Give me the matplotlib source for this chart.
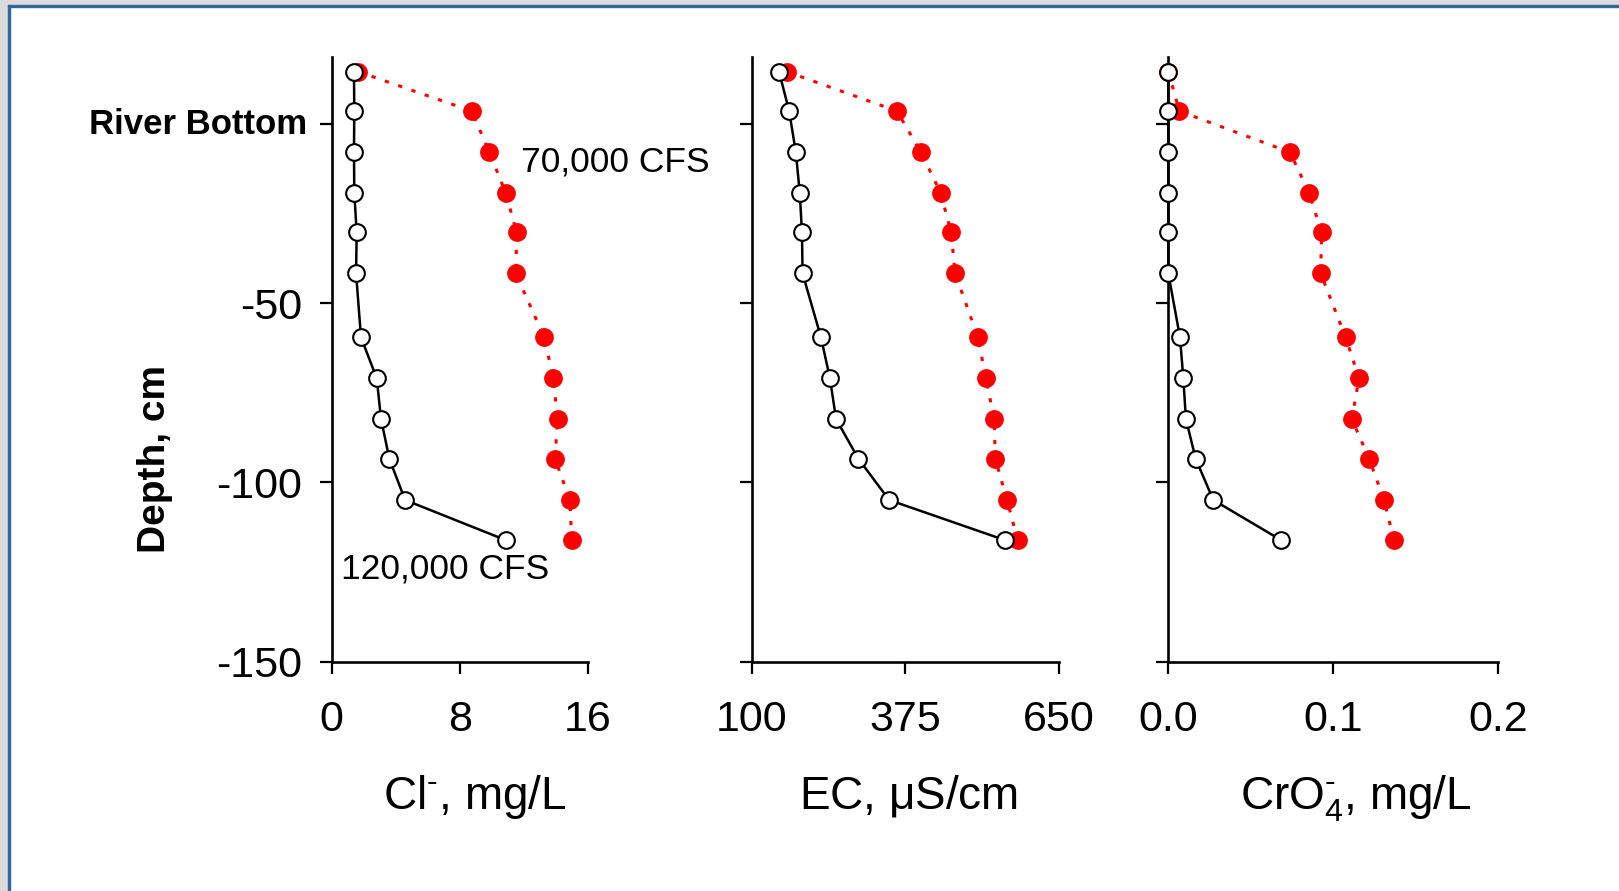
import matplotlib
matplotlib.use("Agg")
import matplotlib.pyplot as plt
from matplotlib.patches import Rectangle

plt.rcParams['font.family'] = ['Liberation Sans', 'DejaVu Sans']
plt.rcParams['mathtext.fontset'] = 'custom'
plt.rcParams['mathtext.rm'] = 'Liberation Sans'
plt.rcParams['mathtext.it'] = 'Liberation Sans'
plt.rcParams['mathtext.default'] = 'regular'

# profundidades de muestreo (cm, 0 = fondo del rio)
profundidad = [14.7, 3.7, -7.8, -19.1, -30.2, -41.6, -59.5, -70.9, -82.3, -93.4, -104.9, -116.1]

# Cl-, mg/L
cl_120k = [1.39, 1.41, 1.39, 1.41, 1.56, 1.52, 1.83, 2.81, 3.08, 3.60, 4.58, 10.86]
cl_70k = [1.66, 8.74, 9.84, 10.86, 11.55, 11.49, 13.27, 13.83, 14.10, 13.94, 14.87, 14.98]

# EC, uS/cm
ec_120k = [149, 167, 179, 186, 190, 191, 224, 240, 251, 291, 346, 553]
ec_70k = [163, 360, 403, 438, 457, 464, 505, 519, 534, 536, 557, 576]

# CrO4-, mg/L
cro4_120k = [0.0, 0.0, 0.0, 0.0, 0.0, 0.0, 0.0071, 0.0091, 0.0107, 0.0166, 0.0273, 0.0684]
cro4_70k = [0.0, 0.0067, 0.0738, 0.0854, 0.0930, 0.0924, 0.1076, 0.1157, 0.1113, 0.1219, 0.1308, 0.1369]

paneles = [
    (cl_120k, cl_70k, (0, 16), [0, 8, 16], ['0', '8', '16'], 'Cl$^{\u2010}$, mg/L', 0.56),
    (ec_120k, ec_70k, (100, 650), [100, 375, 650], ['100', '375', '650'], r'EC, $\mu$S/cm', 0.51),
    (cro4_120k, cro4_70k, (0, 0.2), [0.0, 0.1, 0.2], ['0.0', '0.1', '0.2'], 'CrO$_4^{\u2010}$, mg/L', 0.57),
]

W, H = 1619, 891
fig = plt.figure(figsize=(W / 100, H / 100), dpi=100)

# marco gris/azul de la captura
fig.patches.append(Rectangle((0, 1 - 5 / H), 1, 5 / H, transform=fig.transFigure, color='#dcdcdc', zorder=-5))
fig.patches.append(Rectangle((0, 0), 8 / W, 1, transform=fig.transFigure, color='#dcdcdc', zorder=-5))
fig.patches.append(Rectangle((8 / W, 1 - 7 / H), 1, 2 / H, transform=fig.transFigure, color='#336699', zorder=-4))
fig.patches.append(Rectangle((8 / W, 0), 2 / W, 1 - 5 / H, transform=fig.transFigure, color='#336699', zorder=-4))

lefts = [331.7, 751.7, 1168.3]
rights = [588, 1059, 1498]
y_top, y_bot = 57, 661.5

for i, (serie_a, serie_b, xlim, xt, xtl, xlab, labx) in enumerate(paneles):
    ax = fig.add_axes([lefts[i] / W, 1 - y_bot / H, (rights[i] - lefts[i]) / W, (y_bot - y_top) / H])
    ax.plot(serie_b, profundidad, color='red', lw=2.2, linestyle=(0, (1.4, 3.2)),
            marker='o', ms=12.5, mfc='red', mec='red', clip_on=False, zorder=3)
    ax.plot(serie_a, profundidad, color='black', lw=1.8, marker='o', ms=12,
            mfc='white', mec='black', mew=1.5, clip_on=False, zorder=4)
    ax.set_xlim(*xlim)
    ax.set_ylim(-150, 18.8)
    ax.set_xticks(xt)
    ax.set_xticklabels(xtl)
    ax.set_yticks([-150, -100, -50, 0])
    if i == 0:
        ax.set_yticklabels(['-150', '-100', '-50', ''])
    else:
        ax.set_yticklabels([])
    for s in ['top', 'right']:
        ax.spines[s].set_visible(False)
    for s in ['left', 'bottom']:
        ax.spines[s].set_linewidth(1.9)
    ax.tick_params(axis='both', direction='out', length=8.5, width=1.6, labelsize=31)
    ax.tick_params(axis='x', pad=19)
    ax.tick_params(axis='y', pad=13)
    ax.set_xlabel(xlab, fontsize=33)
    ax.xaxis.set_label_coords(labx, -0.185)

fig.text(307 / W, 1 - 124 / H, 'River Bottom', ha='right', va='center', fontsize=25, fontweight='bold')
fig.text(155 / W, 1 - 459 / H, 'Depth, cm', ha='center', va='center', rotation=90, fontsize=28, fontweight='bold')
fig.text(521 / W, 1 - 162 / H, '70,000 CFS', ha='left', va='center', fontsize=25.5)
fig.text(341 / W, 1 - 569 / H, '120,000 CFS', ha='left', va='center', fontsize=25.5)

fig.savefig('out.png', dpi=100)
